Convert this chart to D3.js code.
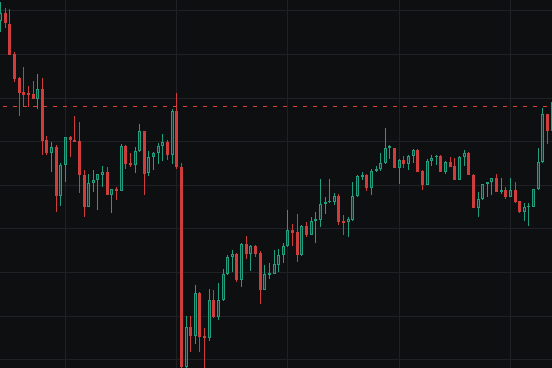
<!DOCTYPE html>
<html>
<head>
<meta charset="utf-8">
<script src="https://cdn.jsdelivr.net/npm/d3@7"></script>
<style>
    html, body { margin: 0; padding: 0; background: #0e0f11; overflow: hidden; }
</style>
</head>
<body>
<div id="plot"></div>
<script>

// hourly candles
var opens = [
    177.48, 179.31, 176.86, 169.98, 164.48, 161.27, 160.98, 160.70, 159.74, 161.89,
    150.16, 147.36, 148.67, 137.51, 144.47, 150.96, 150.27, 149.93, 142.36, 134.98,
    140.35, 141.04, 142.36, 142.94, 137.74, 138.97, 138.65, 148.90, 144.89, 144.61,
    147.64, 152.27, 142.60, 146.26, 147.18, 148.78, 149.75, 146.90, 156.85, 144.09,
    98.13, 107.34, 105.42, 115.21, 105.42, 104.96, 113.60, 109.77, 113.49, 119.45,
    123.39, 124.14, 118.25, 126.44, 124.14, 125.98, 124.37, 115.89, 119.40, 119.56,
    121.62, 123.80, 125.91, 129.65, 129.07, 123.92, 130.56, 128.50, 131.59, 131.94,
    135.49, 135.95, 136.06, 137.44, 131.71, 131.41, 131.82, 137.32, 141.79, 142.14,
    139.34, 143.10, 143.51, 144.89, 148.37, 148.44, 143.92, 145.69, 144.70, 146.61,
    147.98, 143.17, 139.96, 145.35, 146.26, 146.61, 143.01, 145.30, 144.20, 141.11,
    146.31, 147.29, 142.36, 134.62, 136.68, 140.07, 140.53, 141.56, 138.36, 138.70,
    137.28, 138.70, 136.18, 133.84, 134.85, 134.98, 138.93, 145.12, 156.23, 152.34
];

var highs = [
    181.90, 180.46, 180.30, 170.51, 164.64, 167.07, 162.65, 163.86, 165.40, 164.48,
    151.19, 149.88, 149.06, 144.93, 151.07, 151.19, 155.77, 154.40, 143.40, 142.41,
    143.33, 142.48, 144.31, 144.02, 139.04, 139.43, 149.36, 149.01, 147.22, 148.74,
    153.94, 152.34, 147.68, 147.41, 149.52, 151.65, 150.27, 157.38, 160.98, 145.00,
    110.00, 110.00, 116.97, 115.32, 107.12, 116.12, 115.96, 117.43, 120.64, 123.92,
    125.06, 124.26, 126.73, 128.27, 126.09, 126.09, 124.83, 121.69, 122.15, 124.99,
    125.29, 126.60, 134.23, 130.95, 133.24, 130.79, 131.41, 132.56, 133.77, 141.33,
    137.14, 141.27, 138.13, 137.90, 133.08, 132.69, 140.72, 142.25, 143.01, 142.48,
    143.63, 144.38, 147.22, 153.02, 149.20, 148.55, 145.80, 146.61, 146.72, 148.10,
    148.28, 143.28, 145.85, 146.84, 146.72, 146.72, 145.39, 146.45, 146.22, 146.61,
    147.98, 147.52, 142.48, 138.42, 140.26, 140.72, 141.63, 142.41, 141.56, 139.43,
    141.49, 140.72, 136.22, 135.77, 135.77, 139.04, 148.37, 157.54, 156.30, 159.33
];

var lows = [
    175.10, 175.88, 169.76, 163.64, 155.84, 157.90, 157.90, 159.60, 157.31, 146.77,
    146.77, 142.87, 133.77, 135.21, 140.72, 146.38, 149.70, 138.19, 132.69, 134.85,
    138.42, 134.23, 139.57, 137.67, 133.61, 136.52, 138.58, 143.56, 144.02, 142.78,
    147.59, 137.67, 142.02, 143.33, 144.77, 145.46, 145.69, 144.77, 143.69, 97.56,
    97.33, 101.75, 103.45, 101.75, 97.10, 104.27, 109.48, 109.02, 113.44, 119.40,
    120.02, 117.80, 116.65, 123.00, 120.32, 123.53, 112.68, 115.78, 118.35, 119.45,
    120.09, 122.01, 125.82, 125.98, 122.38, 123.76, 128.11, 128.38, 126.73, 130.26,
    133.31, 135.90, 135.38, 130.79, 128.50, 128.11, 131.78, 137.28, 141.11, 138.58,
    137.67, 143.01, 143.17, 144.84, 145.85, 143.86, 140.12, 143.92, 143.40, 144.93,
    142.94, 138.81, 139.84, 144.31, 144.54, 142.94, 142.41, 144.02, 140.99, 140.99,
    144.31, 142.25, 134.57, 132.69, 136.52, 137.14, 137.67, 138.36, 137.83, 136.68,
    137.21, 135.77, 133.47, 131.71, 130.63, 134.92, 138.81, 145.00, 149.36, 152.22
];

var closes = [
    179.31, 177.02, 169.82, 164.32, 161.11, 160.65, 160.59, 159.74, 161.89, 150.11,
    147.36, 148.67, 137.44, 144.54, 150.96, 150.20, 149.81, 142.32, 134.98, 140.42,
    141.11, 142.41, 142.94, 137.74, 138.97, 138.65, 148.90, 144.77, 144.54, 147.75,
    152.27, 142.55, 146.31, 147.29, 148.90, 149.75, 146.90, 156.85, 144.02, 98.13,
    107.34, 105.42, 115.21, 105.19, 104.96, 113.60, 109.64, 113.60, 119.56, 123.53,
    124.14, 118.19, 126.44, 124.14, 125.98, 124.14, 115.89, 119.56, 119.86, 121.78,
    123.92, 125.98, 129.65, 129.03, 123.92, 130.56, 128.50, 131.71, 132.17, 135.60,
    136.06, 136.36, 137.44, 131.55, 131.32, 132.10, 137.44, 142.02, 142.25, 139.34,
    143.17, 143.56, 145.00, 148.44, 148.90, 143.92, 145.69, 144.70, 146.61, 147.98,
    143.01, 139.96, 145.46, 146.22, 146.61, 143.01, 145.30, 144.09, 141.11, 146.31,
    147.23, 142.32, 134.62, 136.68, 140.19, 140.65, 141.56, 138.42, 138.74, 137.28,
    138.74, 136.13, 133.84, 134.85, 135.15, 138.97, 145.16, 156.23, 152.34, 158.91
];

// horizontal grid prices and the candles where a new day starts
var gridPrices = [100, 110, 120, 130, 140, 150, 160, 170, 180];
var dayStarts = [14, 38, 62, 86, 110];

// dashed price line
var markPrice = 158.0;

window.onload = function(){

    var data = opens.map((o, i) => ({
        i: i,
        open: o,
        high: highs[i],
        low: lows[i],
        close: closes[i]
    }));

    buildChart(data);

};

function buildChart(data){

    var width = 552;
    var height = 368;

    var upColor = "#1f9f80";
    var upFill = "rgba(31,159,128,0.28)";
    var downColor = "#cf3c3c";
    var gridColor = "#1f2124";

    var xScale = d3.scaleLinear()
        .domain([0, 119])
        .range([0.1, 0.1 + 4.635 * 119]);

    var yScale = d3.scaleLinear()
        .domain([100, 180])
        .range([359.3, 10.3]);

    var px = i => Math.round(xScale(i));
    var py = v => Math.round(yScale(v));

    var svg = d3.select("#plot")
        .append("svg")
        .attr("width", width)
        .attr("height", height)
        .style("display", "block")
        .style("background", "#0e0f11");

    // grid
    svg.append("g")
        .selectAll("line")
        .data(gridPrices)
        .enter()
        .append("line")
        .attr("x1", 0)
        .attr("x2", width)
        .attr("y1", d => py(d) + 0.5)
        .attr("y2", d => py(d) + 0.5)
        .attr("stroke", gridColor)
        .attr("stroke-width", 1);

    svg.append("g")
        .selectAll("line")
        .data(dayStarts)
        .enter()
        .append("line")
        .attr("x1", d => px(d) + 0.5)
        .attr("x2", d => px(d) + 0.5)
        .attr("y1", 0)
        .attr("y2", height)
        .attr("stroke", gridColor)
        .attr("stroke-width", 1);

    var candles = svg.append("g")
        .selectAll("g")
        .data(data)
        .enter()
        .append("g");

    // wicks (up candles get the part outside the body only)
    candles.each(function(d){

        var g = d3.select(this);
        var up = d.close >= d.open;
        var color = up ? upColor : downColor;
        var x = px(d.i);
        var top = py(Math.max(d.open, d.close));
        var bottom = Math.max(top + 1, py(Math.min(d.open, d.close)));
        var hi = py(d.high);
        var lo = py(d.low);

        if(up){

            if(top > hi){
                g.append("rect").attr("x", x).attr("y", hi).attr("width", 1).attr("height", top - hi).attr("fill", color);
            }
            if(lo > bottom){
                g.append("rect").attr("x", x).attr("y", bottom).attr("width", 1).attr("height", lo - bottom).attr("fill", color);
            }

            if(bottom - top <= 2){

                g.append("rect")
                    .attr("x", x - 1)
                    .attr("y", top)
                    .attr("width", 3)
                    .attr("height", bottom - top)
                    .attr("fill", color);

            } else {

                g.append("rect")
                    .attr("x", x - 0.5)
                    .attr("y", top + 0.5)
                    .attr("width", 2)
                    .attr("height", bottom - top - 1)
                    .attr("fill", upFill)
                    .attr("stroke", color)
                    .attr("stroke-width", 1);

            }

        } else {

            g.append("rect").attr("x", x).attr("y", hi).attr("width", 1).attr("height", Math.max(1, lo - hi)).attr("fill", color);

            g.append("rect")
                .attr("x", x - 1)
                .attr("y", top)
                .attr("width", 3)
                .attr("height", bottom - top)
                .attr("fill", color);

        }

    });

    // dashed line
    svg.append("line")
        .attr("x1", 0)
        .attr("x2", width)
        .attr("y1", py(markPrice) + 0.5)
        .attr("y2", py(markPrice) + 0.5)
        .attr("stroke", "#d9403d")
        .attr("stroke-width", 1)
        .attr("stroke-dasharray", "4,6")
        .attr("stroke-dashoffset", -3);

}

</script>
</body>
</html>
